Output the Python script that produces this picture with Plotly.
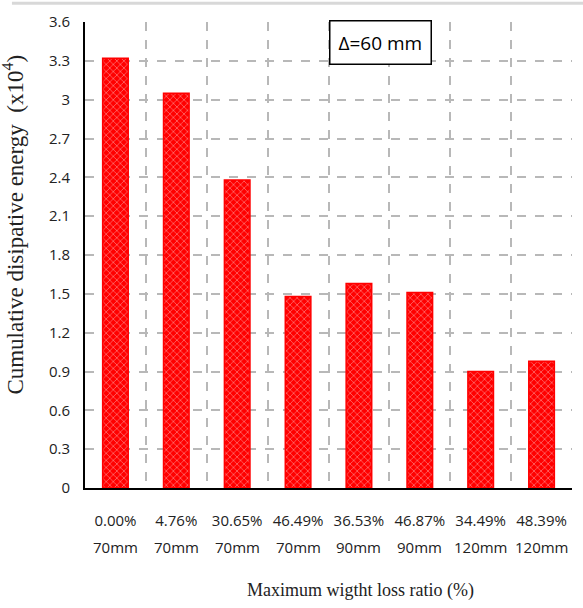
import plotly.graph_objects as go

ratios = ["0.00%", "4.76%", "30.65%", "46.49%", "36.53%", "46.87%", "34.49%", "48.39%"]
sizes = ["70mm", "70mm", "70mm", "70mm", "90mm", "90mm", "120mm", "120mm"]
values = [3.32, 3.05, 2.38, 1.48, 1.58, 1.51, 0.90, 0.98]
y_ticks = [0, 0.3, 0.6, 0.9, 1.2, 1.5, 1.8, 2.1, 2.4, 2.7, 3, 3.3, 3.6]
y_tick_text = ["0", "0.3", "0.6", "0.9", "1.2", "1.5", "1.8", "2.1", "2.4", "2.7", "3", "3.3", "3.6"]

sans = "Liberation Sans Narrow, Open Sans, Noto Sans, sans-serif"
tick_font = dict(family=sans, size=15, color="#222")
serif = "Liberation Serif, Times New Roman, serif"

fig = go.Figure(go.Bar(
    x=ratios, y=values, width=0.42,
    marker=dict(color="#ff0000", line=dict(color="#ff0000", width=1.5),
                pattern=dict(shape="x", fgcolor="#ffd0d0", bgcolor="#ff0000", size=5, solidity=0.3)),
))

annotations = [dict(
    x=0.606, y=1.004, xref="paper", yref="paper", xanchor="center", yanchor="top",
    text="Δ=60 mm", showarrow=False, font=dict(family=sans, size=19, color="black"),
    bordercolor="black", borderwidth=1.5, borderpad=8, bgcolor="white",
)]
for r, s in zip(ratios, sizes):
    annotations.append(dict(x=r, y=-0.1266, xref="x", yref="paper", text=s, showarrow=False,
                            xanchor="center", yanchor="middle", font=tick_font))
annotations.append(dict(x=0.565, y=-0.219, xref="paper", yref="paper", xanchor="center", yanchor="middle",
                        text="Maximum wigtht loss ratio (%)", showarrow=False,
                        font=dict(family=serif, size=18, color="#222")))
annotations.append(dict(x=-0.146, y=0.565, xref="paper", yref="paper", xanchor="center", yanchor="middle",
                        textangle=-90, text="Cumulative disipative energy  (x10<sup>4</sup>)",
                        showarrow=False, font=dict(family=serif, size=23, color="#222")))

fig.update_layout(
    width=583, height=608,
    margin=dict(l=85, r=11, t=22, b=120),
    plot_bgcolor="white", paper_bgcolor="white",
    showlegend=False,
    xaxis=dict(
        type="category", tickson="boundaries", showgrid=True, gridcolor="#b8b8b8",
        griddash="dash", gridwidth=1.5, ticks="", tickfont=tick_font, tickangle=0,
        ticklabelstandoff=18,
        showline=True, linecolor="black", linewidth=2,
    ),
    yaxis=dict(
        range=[0, 3.6], tickvals=y_ticks, ticktext=y_tick_text,
        showgrid=True, gridcolor="#b8b8b8", griddash="dash", gridwidth=1.5,
        ticks="", tickfont=tick_font, zeroline=False, ticklabelstandoff=10,
        showline=True, linecolor="black", linewidth=2,
    ),
    annotations=annotations,
    shapes=[dict(type="line", xref="paper", yref="paper", x0=-0.15, x1=1.03, y0=1.04, y1=1.04,
                 line=dict(color="#d8d8d8", width=3))],
)

fig.write_html("out.html")
